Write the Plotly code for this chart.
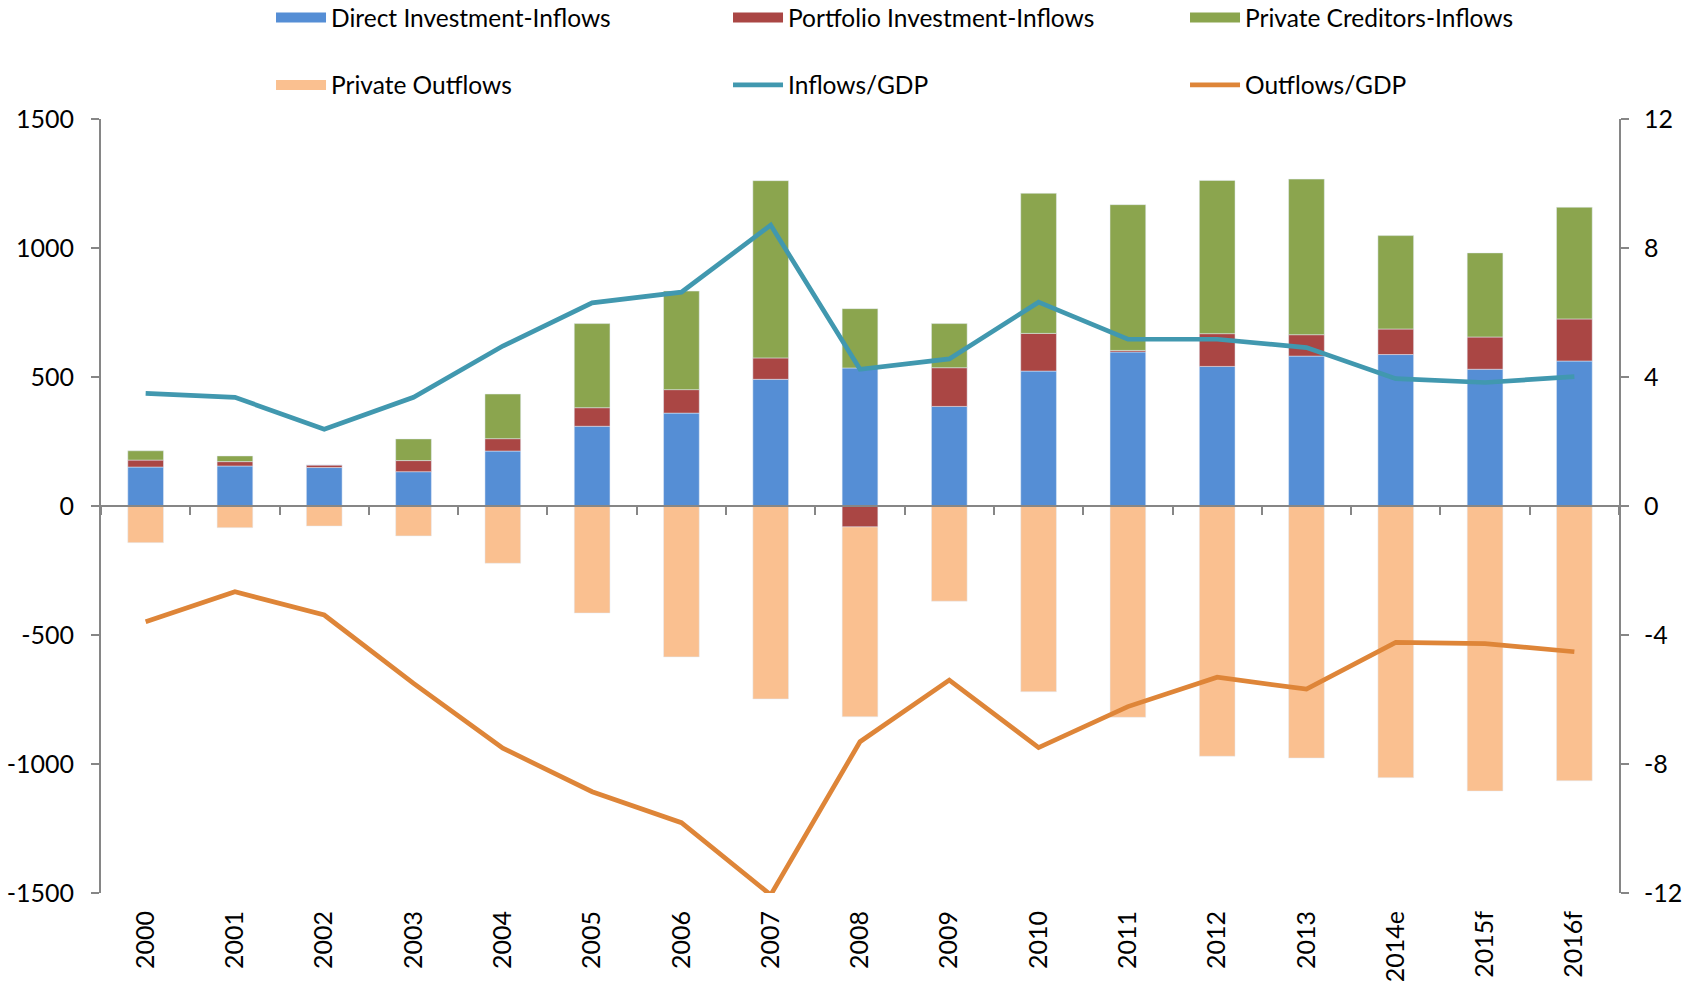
import plotly.graph_objects as go

years = ["2000", "2001", "2002", "2003", "2004", "2005", "2006", "2007", "2008",
         "2009", "2010", "2011", "2012", "2013", "2014e", "2015f", "2016f"]
direct_inv = [151, 155, 149, 133, 213, 309, 360, 491, 535, 386, 523, 597, 541, 581, 587, 530, 562]
portfolio_inv = [27, 17, 10, 43, 48, 72, 91, 83, -81, 150, 146, 6, 127, 83, 99, 125, 163]
private_cred = [36, 22, 0, 84, 173, 326, 382, 687, 230, 171, 543, 565, 594, 603, 362, 326, 433]
private_out = [-142, -84, -78, -116, -222, -415, -585, -748, -736, -369, -720, -819, -970, -977, -1053, -1105, -1065]
inflows_gdp = [3.49, 3.37, 2.38, 3.37, 4.96, 6.30, 6.63, 8.71, 4.24, 4.56, 6.32, 5.17, 5.17, 4.91, 3.95, 3.83, 4.01]
outflows_gdp = [-3.59, -2.66, -3.38, -5.5, -7.51, -8.86, -9.82, -12.06, -7.31, -5.40, -7.49, -6.22, -5.31, -5.68, -4.23, -4.27, -4.52]

left_ticks = [-1500, -1000, -500, 0, 500, 1000, 1500]
left_tick_text = ["-1500", "-1000", "-500", "0", "500", "1000", "1500"]
right_ticks = [-12, -8, -4, 0, 4, 8, 12]
right_tick_text = ["-12", "-8", "-4", "0", "4", "8", "12"]

bar_series = [
    ("Direct Investment-Inflows", direct_inv, "#558ED5", "legend"),
    ("Portfolio Investment-Inflows", portfolio_inv, "#AA4644", "legend"),
    ("Private Creditors-Inflows", private_cred, "#8BA54E", "legend"),
    ("Private Outflows", private_out, "#FAC090", "legend2"),
]

FONT = "Lato, 'Open Sans', sans-serif"
AXIS_COLOR = "#868686"

fig = go.Figure()
for name, vals, color, leg in bar_series:
    fig.add_trace(go.Bar(x=years, y=vals, name=name, marker_color=color,
                         legendgroup=name, showlegend=False))
    # wide rectangular legend key, like the original chart
    fig.add_trace(go.Scatter(x=[None], y=[None], name=name, mode="lines",
                             line=dict(color=color, width=10), legendgroup=name,
                             legend=leg, showlegend=True))

fig.add_trace(go.Scatter(x=years, y=inflows_gdp, name="Inflows/GDP", mode="lines",
                         line=dict(color="#4198AF", width=4.7), xaxis="x2", yaxis="y2",
                         legend="legend2"))
fig.add_trace(go.Scatter(x=years, y=outflows_gdp, name="Outflows/GDP", mode="lines",
                         line=dict(color="#DE8538", width=4.7), xaxis="x2", yaxis="y2",
                         legend="legend2"))

legend_common = dict(orientation="h", xanchor="left", yanchor="top",
                     font=dict(family=FONT, size=24.5, color="#000000"),
                     entrywidth=392, entrywidthmode="pixels", itemwidth=50,
                     bgcolor="rgba(0,0,0,0)", traceorder="normal")

fig.update_layout(
    width=1696, height=984,
    barmode="relative", bargap=0.6,
    plot_bgcolor="white", paper_bgcolor="white",
    margin=dict(l=101, r=77, t=119, b=91, autoexpand=False),
    font=dict(family=FONT, size=24, color="#000000"),
    legend=dict(x=0.112, y=1.16, **legend_common),
    legend2=dict(x=0.112, y=1.073, **legend_common),
    xaxis=dict(type="category", categoryarray=years, range=[-0.5, 16.5],
               showline=False, ticks="", tickangle=-90, showgrid=False,
               tickfont=dict(family=FONT, size=25), ticklabelstandoff=12),
    xaxis2=dict(type="category", categoryarray=years, range=[-0.5, 16.5],
                overlaying="x", anchor="free", position=0.5,
                showline=True, linecolor=AXIS_COLOR, linewidth=2,
                ticks="outside", tickson="boundaries", ticklen=8, tickwidth=2,
                tickcolor=AXIS_COLOR, showticklabels=False, showgrid=False),
    yaxis=dict(range=[-1500, 1500], tickvals=left_ticks, ticktext=left_tick_text,
               showline=True, linecolor=AXIS_COLOR, linewidth=2,
               ticks="outside", ticklen=8, tickwidth=2, tickcolor=AXIS_COLOR,
               showgrid=False, zeroline=False, tickfont=dict(family=FONT, size=25),
               ticklabelstandoff=12),
    yaxis2=dict(range=[-12, 12], tickvals=right_ticks, ticktext=right_tick_text,
                overlaying="y", side="right", anchor="x2",
                showline=True, linecolor=AXIS_COLOR, linewidth=2,
                ticks="outside", ticklen=8, tickwidth=2, tickcolor=AXIS_COLOR,
                showgrid=False, zeroline=False, tickfont=dict(family=FONT, size=25),
                ticklabelstandoff=10),
)

fig.write_html("out.html", config={"displayModeBar": False},
               post_script="document.body.style.margin='0px';")
